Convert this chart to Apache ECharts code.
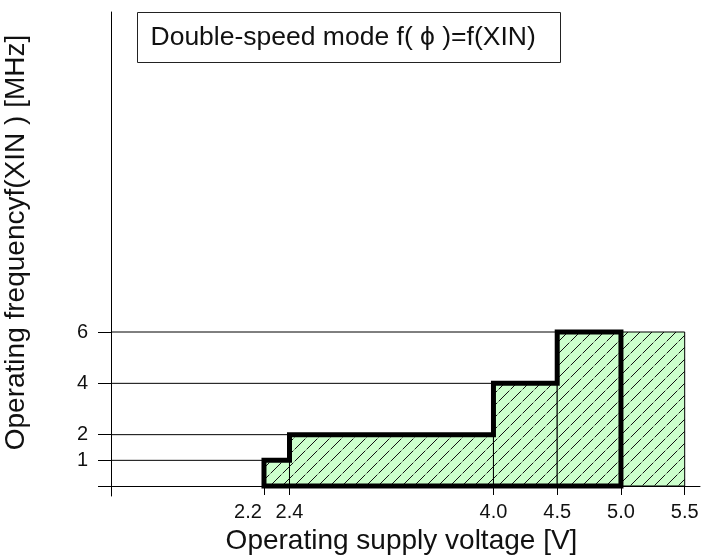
<!DOCTYPE html>
<html>
<head>
<meta charset="utf-8">
<script src="https://cdn.jsdelivr.net/npm/echarts@6/dist/echarts.min.js"></script>
<style>
  html, body { margin: 0; padding: 0; background: #fff; }
  #chart { width: 702px; height: 555px; }
</style>
</head>
<body>
<div id="chart"></div>
<script>
// ---- data ----
const voltEdges = [2.2, 2.4, 4.0, 4.5, 5.0, 5.5];   // segment boundaries [V]
const freqLevels = [1, 2, 4, 6, 6];                  // f(XIN) per segment [MHz]
const outlineEnd = 5.0;                              // thick outline ends here
const xTickValues = [2.2, 2.4, 4.0, 4.5, 5.0, 5.5];
const yTickValues = [0, 1, 2, 4, 6];
const yLabelValues = [1, 2, 4, 6];
const titleText = 'Double-speed mode f( \u03D5 )=f(XIN)';
const xName = 'Operating supply voltage [V]';
const yName = 'Operating frequencyf(XIN ) [MHz]';

const X_MIN = 1.0, X_MAX = 5.62, Y_MIN = -0.39, Y_MAX = 18.47;
const FONT = '"Liberation Sans", Arial, sans-serif';

// hatch pattern
function makeHatch() {
  const s = 12;
  const c = document.createElement('canvas');
  c.width = s; c.height = s;
  const g = c.getContext('2d');
  g.fillStyle = '#ccffcc';
  g.fillRect(0, 0, s, s);
  g.strokeStyle = '#111';
  g.lineWidth = 1;
  const segs = [[0, s, 5.4, s - 5.4], [6.6, 5.4, s, 0], [-s, s, 0, 0], [s, s, 2 * s, 0], [-1, 1, 1, -1], [s - 1, s + 1, s + 1, s - 1]];
  segs.forEach(([a, b, cc, d]) => { g.beginPath(); g.moveTo(a, b); g.lineTo(cc, d); g.stroke(); });
  return c;
}
const hatch = { image: makeHatch(), repeat: 'repeat' };

// rectangles data [x0, x1, h]
const rectData = freqLevels.map((f, i) => [voltEdges[i], voltEdges[i + 1], f]);

// outline polygon
const outline = [[voltEdges[0], 0]];
freqLevels.forEach((f, i) => {
  if (voltEdges[i] < outlineEnd) {
    outline.push([voltEdges[i], f]);
    outline.push([voltEdges[i + 1], f]);
  }
});
outline.push([outlineEnd, 0]);
outline.push([voltEdges[0], 0]);
outline.push([voltEdges[0], freqLevels[0]]);

// guide lines from the axis to the step start
const guideSeries = [];
freqLevels.forEach((f, i) => {
  if (i === 0 || f !== freqLevels[i - 1]) {
    guideSeries.push({
      type: 'line', data: [[X_MIN, f], [voltEdges[i], f]], symbol: 'none', silent: true,
      lineStyle: { color: '#000', width: 1 }, z: 1, animation: false
    });
  }
});

const chart = echarts.init(document.getElementById('chart'), null, { renderer: 'canvas' });
chart.setOption({
  animation: false,
  backgroundColor: '#fff',
  grid: { left: 111, right: 2, top: 12, bottom: 59, containLabel: false, outerBoundsMode: 'none' },
  xAxis: {
    type: 'value', min: X_MIN, max: X_MAX,
    name: xName, nameLocation: 'middle', nameGap: 28,
    nameTextStyle: { fontFamily: FONT, fontSize: 28, color: '#111', padding: [0, 8, 0, 0] },
    axisLine: { show: true, onZero: true, lineStyle: { color: '#000', width: 1 } },
    axisTick: { show: true, inside: false, length: 9, customValues: xTickValues, lineStyle: { color: '#000' } },
    axisLabel: {
      show: true, customValues: xTickValues, margin: 6,
      fontFamily: FONT, fontSize: 20, color: '#111',
      formatter: v => (Math.abs(v - 2.2) < 1e-9 ? '{l|' + v.toFixed(1) + '}' : v.toFixed(1)),
      rich: { l: { fontFamily: FONT, fontSize: 20, color: '#111', padding: [0, 32, 0, 0] } }
    },
    splitLine: { show: false }
  },
  yAxis: {
    type: 'value', min: Y_MIN, max: Y_MAX,
    name: yName, nameLocation: 'middle', nameGap: 81, nameRotate: 90,
    nameTextStyle: { fontFamily: FONT, fontSize: 28, color: '#111', padding: [0, 0, 0, 23] },
    axisLine: { show: true, onZero: false, lineStyle: { color: '#000', width: 1 } },
    axisTick: { show: true, inside: false, length: 13, customValues: yTickValues, lineStyle: { color: '#000' } },
    axisLabel: { show: true, customValues: yLabelValues, margin: 23, fontFamily: FONT, fontSize: 20, color: '#111' },
    splitLine: { show: false }
  },
  graphic: [
    {
      type: 'group', left: 137, top: 12,
      children: [
        { type: 'rect', shape: { x: 0, y: 0, width: 423, height: 50 }, style: { fill: '#fff', stroke: '#222', lineWidth: 1 } },
        { type: 'text', x: 13, y: 25, style: { text: titleText, font: '26.5px ' + FONT, fill: '#111', verticalAlign: 'middle' } }
      ]
    }
  ],
  series: [
    ...guideSeries,
    {
      type: 'custom', data: rectData, z: 2, silent: true,
      encode: { x: [0, 1], y: 2 },
      renderItem: function (params, api) {
        const p0 = api.coord([api.value(0), api.value(2)]);
        const p1 = api.coord([api.value(1), 0]);
        return {
          type: 'rect',
          shape: { x: p0[0], y: p0[1], width: p1[0] - p0[0], height: p1[1] - p0[1] },
          style: { fill: hatch, stroke: '#000', lineWidth: 1 }
        };
      }
    },
    {
      type: 'line', data: outline, symbol: 'none', silent: true, z: 3,
      lineStyle: { color: '#000', width: 5, join: 'miter', cap: 'square' }
    }
  ]
});
</script>
</body>
</html>
